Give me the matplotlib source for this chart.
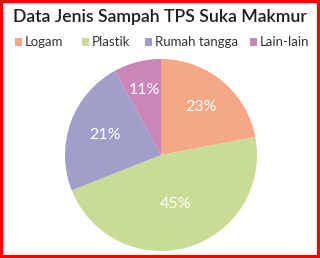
import matplotlib
matplotlib.use("Agg")
import matplotlib.pyplot as plt
import numpy as np
from matplotlib.patches import Rectangle

judul = "Data Jenis Sampah TPS Suka Makmur"
kategori = ["Logam", "Plastik", "Rumah tangga", "Lain-lain"]
# besar irisan seperti tergambar, label persen seperti tertulis
ukuran = [22, 47, 23, 8]
label_persen = ["23%", "45%", "21%", "11%"]
warna = ["#F5A886", "#C8DC96", "#A19FC9", "#C986B6"]

plt.rcParams['font.family'] = ['Lato', 'DejaVu Sans']

fig = plt.figure(figsize=(3.2, 2.58), dpi=100)
fig.patch.set_facecolor("white")

ax = fig.add_axes([65 / 320, 7 / 258, 192 / 320, 192 / 258])
wedges, _ = ax.pie(ukuran, colors=warna, startangle=90, counterclock=False,
                   radius=1.0, wedgeprops=dict(linewidth=0))
ax.set_xlim(-1, 1)
ax.set_ylim(-1, 1)
ax.set_aspect("equal")
ax.axis("off")

jarak = [0.65, 0.53, 0.62, 0.70]
for w, lbl, d in zip(wedges, label_persen, jarak):
    th = np.deg2rad((w.theta1 + w.theta2) / 2)
    ax.text(d * np.cos(th), d * np.sin(th), lbl, color="white",
            fontsize=11.5, ha="center", va="center")

fig.text(0.5, 1 - 17 / 258, judul, ha="center", va="center",
         fontsize=12.7, color="#1E1E1E", fontweight="semibold")

# legenda
posisi_x = [15, 82, 145, 250]
for x, nama, c in zip(posisi_x, kategori, warna):
    fig.patches.append(Rectangle((x / 320, 1 - 46 / 258), 7 / 320, 8 / 258,
                                 transform=fig.transFigure, facecolor=c,
                                 edgecolor="none"))
    fig.text((x + 10) / 320, 1 - 42 / 258, nama, ha="left", va="center",
             fontsize=9.5, color="#333333")

# bingkai merah
fig.patches.append(Rectangle((0, 0), 1, 1, transform=fig.transFigure,
                             facecolor="none", edgecolor="#FF0000",
                             linewidth=4.5))

fig.savefig("out.png", dpi=100)
